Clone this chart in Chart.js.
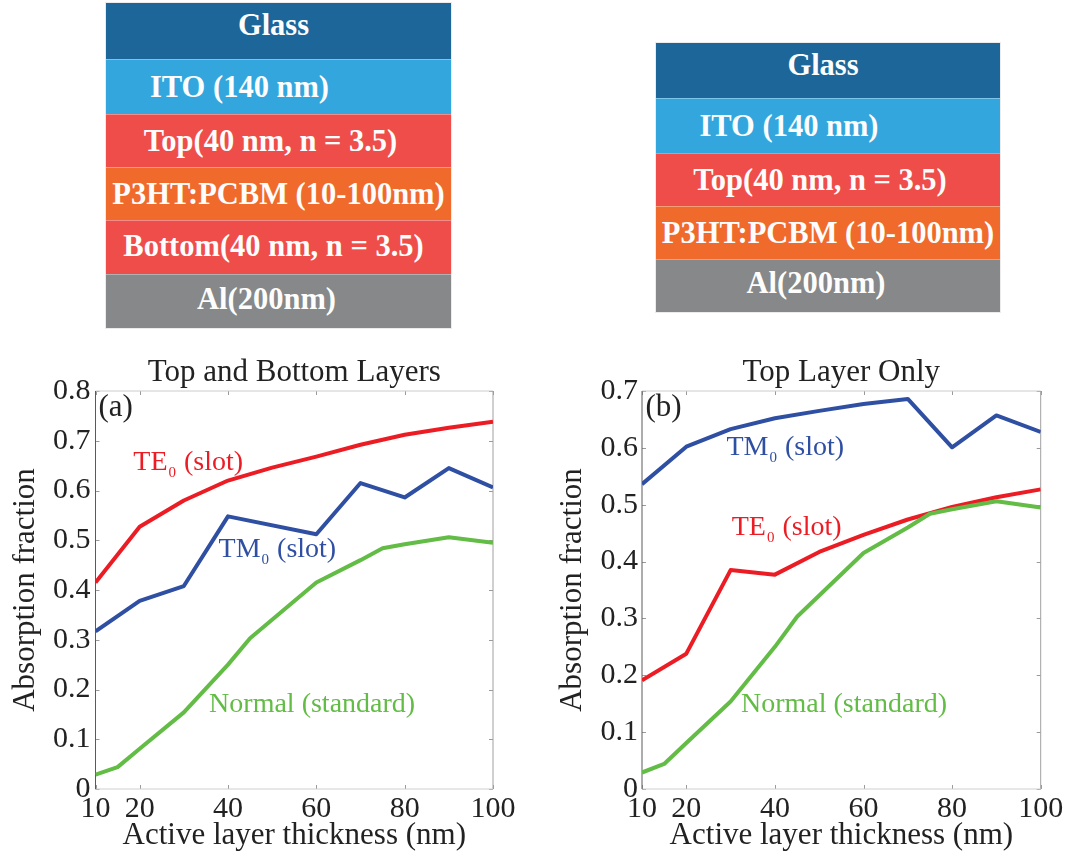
<!DOCTYPE html>
<html>
<head>
<meta charset="utf-8">
<script src="https://cdn.jsdelivr.net/npm/chart.js@4.4.1/dist/chart.umd.min.js"></script>
<style>
  html, body { margin: 0; padding: 0; background: #fff; }
  body { width: 1070px; height: 856px; position: relative; overflow: hidden;
         font-family: "Liberation Serif", "Times New Roman", serif; }
  .stack { position: absolute; box-shadow: 0 0 0 1px rgba(0,0,0,0.08); }
  .layer { position: relative; color: #fdfdfd; font-weight: bold; font-size: 30.5px;
           white-space: nowrap; box-sizing: border-box;
           border-top: 1px solid rgba(255,255,255,0.35); }
  .layer:first-child { border-top: none; }
  .layer span { position: absolute; left: 50%; top: 50%; }
  .panel { position: absolute; top: 355px; width: 535px; height: 501px; }
</style>
</head>
<body>
<div class="stack" id="stackA" style="left:106px; top:3px; width:345px;"></div>
<div class="stack" id="stackB" style="left:656px; top:43px; width:344px;"></div>
<div class="panel" style="left:0;"><canvas id="chartA" width="535" height="501"></canvas></div>
<div class="panel" style="left:535px;"><canvas id="chartB" width="535" height="501"></canvas></div>

<script>
// ---- data -------------------------------------------------------------
// active-layer thickness samples (nm)
const thicknessNm  = [10, 20, 30, 40, 50, 60, 70, 80, 90, 100];
const thicknessTmA = [10, 20, 30, 40, 60, 70, 80, 90, 100];
const thicknessStd = [10, 15, 20, 30, 40, 45, 60, 70, 75, 80, 90, 100];
const xTickValues  = [10, 20, 40, 60, 80, 100];

// (a) top and bottom high-index layers
const teSlotA = [0.415, 0.527, 0.580, 0.620, 0.646, 0.668, 0.692, 0.712, 0.726, 0.738];
const tmSlotA = [0.317, 0.378, 0.408, 0.548, 0.512, 0.615, 0.586, 0.645, 0.606];
// standard device (no slot layers), same in both panels
const normalStd = [0.029, 0.044, 0.081, 0.154, 0.250, 0.303, 0.415, 0.460, 0.484, 0.492, 0.506, 0.495];

// (b) top high-index layer only
const tmSlotB = [0.536, 0.602, 0.633, 0.652, 0.665, 0.677, 0.686, 0.601, 0.657, 0.628];
const teSlotB = [0.191, 0.238, 0.385, 0.377, 0.417, 0.447, 0.474, 0.496, 0.513, 0.527];

// device stacks, top to bottom
const stackALayers = ['Glass', 'ITO (140 nm)', 'Top(40 nm, n = 3.5)', 'P3HT:PCBM (10-100nm)', 'Bottom(40 nm, n = 3.5)', 'Al(200nm)'];
const stackBLayers = ['Glass', 'ITO (140 nm)', 'Top(40 nm, n = 3.5)', 'P3HT:PCBM (10-100nm)', 'Al(200nm)'];

// ---- layer stack diagrams --------------------------------------------
const layerStyle = {
  'Glass':                  { bg: '#1d6699', dx: -5,  dy: -6 },
  'ITO (140 nm)':           { bg: '#33a7dd', dx: -39, dy: 0 },
  'Top(40 nm, n = 3.5)':    { bg: '#ef4d4a', dx: -8,  dy: 0 },
  'P3HT:PCBM (10-100nm)':   { bg: '#f06a2c', dx: 0,   dy: 0 },
  'Bottom(40 nm, n = 3.5)': { bg: '#ef4d4a', dx: -5,  dy: -2 },
  'Al(200nm)':              { bg: '#868889', dx: -12, dy: -3 }
};
const stackARowHeights = [56, 55, 53, 53, 54, 54];
const stackBRowHeights = [55, 55, 53, 53, 53];

function buildStack(el, layers, heights) {
  layers.forEach((name, i) => {
    const st = layerStyle[name];
    const row = document.createElement('div');
    row.className = 'layer';
    row.style.height = heights[i] + 'px';
    row.style.background = st.bg;
    const label = document.createElement('span');
    label.textContent = name;
    label.style.transform = `translate(calc(-50% + ${st.dx}px), calc(-50% + ${st.dy}px))`;
    row.appendChild(label);
    el.appendChild(row);
  });
}
buildStack(document.getElementById('stackA'), stackALayers, stackARowHeights);
buildStack(document.getElementById('stackB'), stackBLayers, stackBRowHeights);

// ---- charts ----------------------------------------------------------
const SERIF = '"Liberation Serif", "Times New Roman", serif';
const INK = '#222';
const RED = '#ec1c24', BLUE = '#2f4fa3', GREEN = '#62bc45';

function pairs(xs, ys) { return xs.map((x, i) => ({ x, y: ys[i] })); }

// box around the plot with short inward tick marks on all four sides
const framePlugin = {
  id: 'frame',
  beforeDatasetsDraw(chart) {
    const { ctx, chartArea: { left, right, top, bottom }, scales: { x, y } } = chart;
    ctx.save();
    ctx.lineWidth = 1;
    ctx.strokeStyle = '#9a9a9a';
    ctx.beginPath();
    x.ticks.forEach(t => {
      const px = Math.round(x.getPixelForValue(t.value)) + 0.5;
      ctx.moveTo(px, bottom); ctx.lineTo(px, bottom - 4);
      ctx.moveTo(px, top);    ctx.lineTo(px, top + 4);
    });
    y.ticks.forEach(t => {
      const py = Math.round(y.getPixelForValue(t.value)) + 0.5;
      ctx.moveTo(left, py);  ctx.lineTo(left + 4, py);
      ctx.moveTo(right, py); ctx.lineTo(right - 4, py);
    });
    ctx.stroke();
    const edge = (c, x1, y1, x2, y2) => {
      ctx.strokeStyle = c; ctx.beginPath(); ctx.moveTo(x1, y1); ctx.lineTo(x2, y2); ctx.stroke();
    };
    edge('#cccccc', left, top, right, top);
    edge('#a0a0a0', right, top, right, bottom);
    edge('#cfcfcf', left, bottom, right, bottom);
    edge('#5a5a5a', left, top, left, bottom);
    ctx.restore();
  }
};

// in-plot curve names (with subscripted mode order) and panel letter
function labelPlugin(items) {
  return {
    id: 'curveLabels',
    afterDatasetsDraw(chart) {
      const { ctx, scales: { x, y } } = chart;
      ctx.save();
      ctx.textAlign = 'left';
      ctx.textBaseline = 'alphabetic';
      items.forEach(it => {
        let px = x.getPixelForValue(it.at[0]);
        const py = y.getPixelForValue(it.at[1]);
        const mainFont = `${it.size}px ${SERIF}`;
        ctx.fillStyle = it.color;
        ctx.font = mainFont;
        ctx.fillText(it.main, px, py);
        px += ctx.measureText(it.main).width;
        if (it.sub) {
          ctx.font = `15px ${SERIF}`;
          ctx.fillText(it.sub, px + 1, py + 7);
          px += ctx.measureText(it.sub).width + 2;
          ctx.font = mainFont;
        }
        if (it.tail) ctx.fillText(it.tail, px, py);
      });
      ctx.restore();
    }
  };
}

function makeChart(id, cfg) {
  return new Chart(document.getElementById(id), {
    type: 'line',
    data: {
      datasets: cfg.series.map(s => ({
        data: pairs(s.x, s.y),
        borderColor: s.color,
        borderWidth: 4,
        pointRadius: 0,
        tension: 0,
        fill: false,
        borderJoinStyle: 'round'
      }))
    },
    options: {
      responsive: false,
      animation: false,
      devicePixelRatio: 1,
      layout: { padding: { left: 0, right: cfg.padRight, top: 0, bottom: 0 } },
      plugins: {
        legend: { display: false },
        tooltip: { enabled: false },
        title: {
          display: true, text: cfg.title, fullSize: false, color: INK,
          font: { family: SERIF, size: 31, weight: 'normal', lineHeight: 1 },
          padding: { top: 2.5, bottom: 2.5 }
        }
      },
      scales: {
        x: {
          type: 'linear', min: 10, max: 100,
          afterBuildTicks: s => { s.ticks = xTickValues.map(v => ({ value: v })); },
          afterFit: s => { s.height = 67; },
          grid: { display: false, drawTicks: false },
          border: { display: false },
          ticks: { padding: 2, color: INK, autoSkip: false, maxRotation: 0,
                   font: { family: SERIF, size: 30, lineHeight: 1.2 } },
          title: { display: true, text: 'Active layer thickness (nm)', color: INK,
                   font: { family: SERIF, size: 31, lineHeight: 1 },
                   padding: { top: 0, bottom: 5 } }
        },
        y: {
          type: 'linear', min: 0, max: cfg.yMax,
          afterFit: s => { s.width = cfg.yWidth; },
          grid: { display: false, drawTicks: false },
          border: { display: false },
          ticks: { stepSize: 0.1, padding: cfg.yTickPad, color: INK,
                   callback: v => String(+v.toFixed(1)),
                   font: { family: SERIF, size: 30, lineHeight: 1.2 } },
          title: { display: true, text: 'Absorption fraction', color: INK,
                   font: { family: SERIF, size: 31, lineHeight: 1 },
                   padding: { top: cfg.yTitlePad, bottom: 0 } }
        }
      }
    },
    plugins: [framePlugin, labelPlugin(cfg.labels)]
  });
}

makeChart('chartA', {
  title: 'Top and Bottom Layers',
  yMax: 0.8, yWidth: 95.5, padRight: 42, yTickPad: 5, yTitlePad: 10.4,
  series: [
    { x: thicknessStd, y: normalStd, color: GREEN },
    { x: thicknessTmA, y: tmSlotA,   color: BLUE },
    { x: thicknessNm,  y: teSlotA,   color: RED }
  ],
  labels: [
    { main: '(a)', at: [10.68, 0.750], color: INK, size: 31 },
    { main: 'TE', sub: '0', tail: ' (slot)', at: [18.56, 0.642], color: RED, size: 28 },
    { main: 'TM', sub: '0', tail: ' (slot)', at: [37.87, 0.466], color: BLUE, size: 28 },
    { main: 'Normal (standard)', at: [35.72, 0.155], color: GREEN, size: 28 }
  ]
});

makeChart('chartB', {
  title: 'Top Layer Only',
  yMax: 0.7, yWidth: 107, padRight: 29.3, yTickPad: 4, yTitlePad: 22.1,
  series: [
    { x: thicknessStd, y: normalStd, color: GREEN },
    { x: thicknessNm,  y: teSlotB,   color: RED },
    { x: thicknessNm,  y: tmSlotB,   color: BLUE }
  ],
  labels: [
    { main: '(b)', at: [10.77, 0.656], color: INK, size: 31 },
    { main: 'TM', sub: '0', tail: ' (slot)', at: [29.07, 0.587], color: BLUE, size: 28 },
    { main: 'TE', sub: '0', tail: ' (slot)', at: [30.25, 0.4465], color: RED, size: 28 },
    { main: 'Normal (standard)', at: [32.35, 0.1354], color: GREEN, size: 28 }
  ]
});
</script>
</body>
</html>
